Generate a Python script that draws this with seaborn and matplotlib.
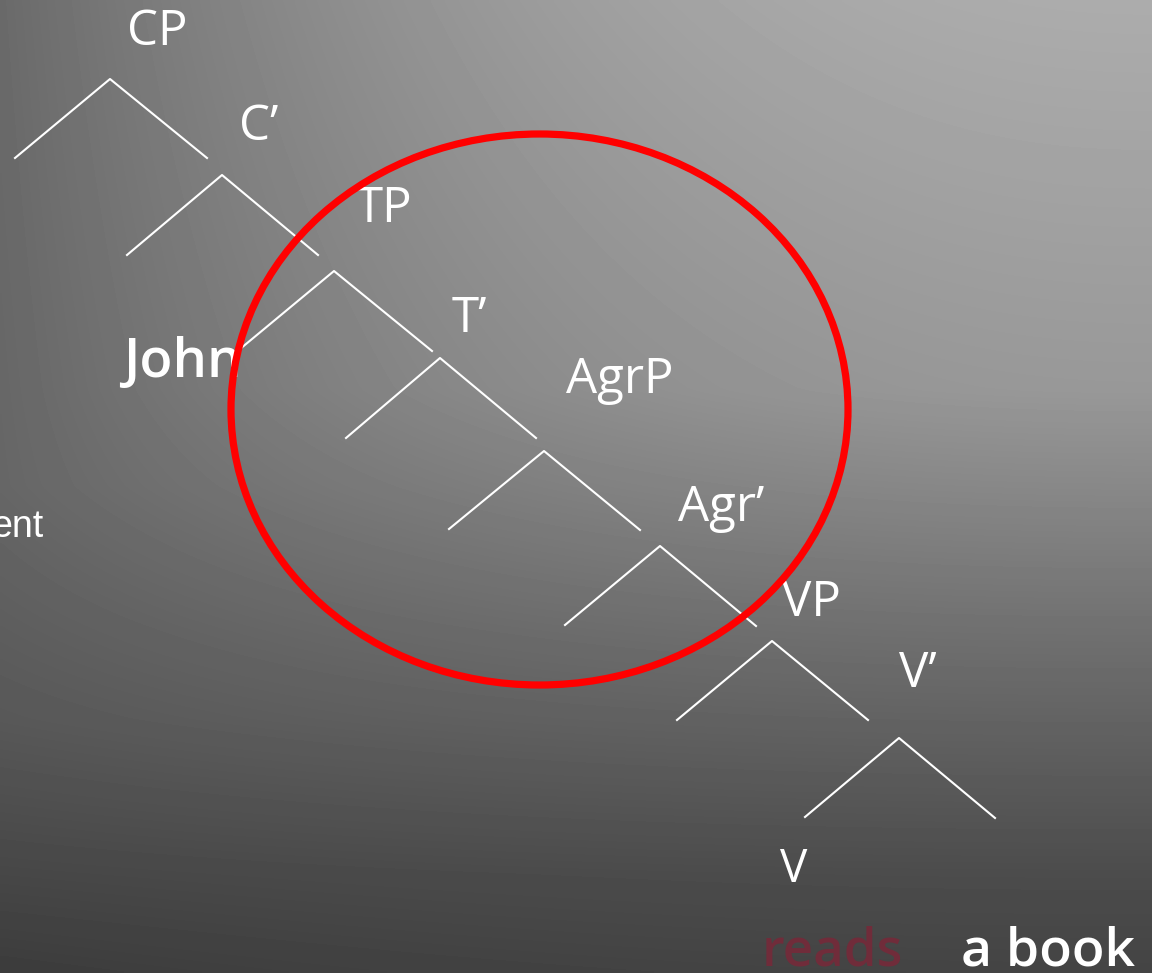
import numpy as np
import pandas as pd
import matplotlib
matplotlib.use('Agg')
import matplotlib.pyplot as plt
from matplotlib.patches import Ellipse
import seaborn as sns

# Tree nodes: apex of each branch and the ends of its two legs (pixel coords)
node_labels = ['CP', 'C\u2019', 'TP', 'T\u2019', 'AgrP', 'Agr\u2019', 'VP', 'V\u2019']
apex_x = [110, 222, 334, 440, 544, 660, 772, 899]
apex_y = [79, 175, 271, 358, 451, 546, 641, 738]
left_x = [15, 127, 240, 346, 449, 565, 677, 805]
left_y = [158, 255, 349, 438, 529, 625, 720, 817]
right_x = [207, 318, 432, 536, 640, 756, 868, 995]
right_y = [158, 255, 351, 438, 530, 626, 720, 818]

# Label placement (left x, baseline y)
label_x = [127, 239, 356, 452, 566, 678, 782, 899]
label_y = [45, 140, 222, 332, 393, 521, 616, 687]

# Words at the leaves
words = ['John', 'V', 'reads', 'a book', 'ent']
word_x = [123, 780, 762, 961, 44]
word_y = [377, 882, 965, 965, 537]

# Red circle around the functional projections
circle_center = (539.5, 409.5)
circle_w, circle_h = 617, 551

W, H = 1152, 973

# Build segments for seaborn
rows = []
for i in range(len(apex_x)):
    rows.append({'seg': i, 'x': left_x[i], 'y': left_y[i]})
    rows.append({'seg': i, 'x': apex_x[i], 'y': apex_y[i]})
    rows.append({'seg': i, 'x': right_x[i], 'y': right_y[i]})
segs = pd.DataFrame(rows)

fig = plt.figure(figsize=(W / 100, H / 100), dpi=100)
ax = fig.add_axes([0, 0, 1, 1])

# Background gradient: brighter top-right, dark bottom-left
yy, xx = np.mgrid[0:1:300j, 0:1:360j]
left_col = np.interp(yy, [0, 0.5, 0.74, 1.0], [106, 102, 88, 60])
right_col = np.interp(yy, [0, 0.4, 0.65, 0.9, 1.0], [172, 152, 112, 76, 68])
bg = left_col + (right_col - left_col) * (1 - (1 - xx) ** 2.2)
bg = np.clip(bg / 255.0, 0, 1)
ax.imshow(bg, cmap='gray', vmin=0, vmax=1, extent=(0, W, H, 0),
          aspect='auto', interpolation='bilinear', zorder=0)

sns.lineplot(data=segs, x='x', y='y', units='seg', estimator=None,
             sort=False, color='white', linewidth=1.5, ax=ax, zorder=2)

font = ['Open Sans', 'DejaVu Sans']
for lab, x, y in zip(node_labels, label_x, label_y):
    ax.text(x, y, lab, color='white', fontsize=35.5, family=font,
            ha='left', va='baseline', zorder=3)

ax.text(word_x[0], word_y[0], words[0], color='white', fontsize=39,
        fontweight='semibold', family=font, ha='left', va='baseline', zorder=3)
ax.text(word_x[1], word_y[1], words[1], color='white', fontsize=33,
        family=font, ha='left', va='baseline', zorder=3)
ax.text(word_x[2], word_y[2], words[2], color='#702c3a', fontsize=38,
        fontweight='semibold', family=font, ha='left', va='baseline', zorder=3)
ax.text(word_x[3], word_y[3], words[3], color='white', fontsize=38.5,
        fontweight='semibold', family=font, ha='left', va='baseline', zorder=3)
ax.text(word_x[4], word_y[4], words[4], color='white', fontsize=27,
        family=['Liberation Sans', 'DejaVu Sans'], ha='right', va='baseline', zorder=3)

ax.add_patch(Ellipse(circle_center, circle_w, circle_h, fill=False,
                     edgecolor='#ff0000', linewidth=5.2, zorder=5))

ax.set_xlim(0, W)
ax.set_ylim(H, 0)
ax.axis('off')
if ax.get_legend():
    ax.get_legend().remove()

plt.savefig('out.png', dpi=100)
